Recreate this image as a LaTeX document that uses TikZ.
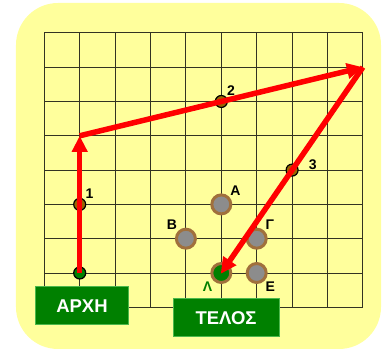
\documentclass[tikz,border=0pt]{standalone}
\usepackage{fontspec}
\setmainfont{Liberation Sans}
\usetikzlibrary{arrows.meta}
\definecolor{padyellow}{HTML}{FFFF9C}
\definecolor{boxgreen}{HTML}{008000}
\definecolor{ringbrown}{HTML}{A0703C}
\definecolor{dotbrown}{HTML}{996600}
\definecolor{dotgray}{HTML}{8C8C8C}
\definecolor{gridink}{HTML}{333322}

\begin{document}
\begin{tikzpicture}[
  x=35.4pt,y=34.3pt,
  font=\bfseries,
  gridline/.style={draw=gridink,line width=0.9pt},
  route/.style={-{Triangle[length=16pt,width=15pt]},red,line width=5.5pt},
  waypt/.style={circle,draw=black,line width=1.2pt,fill=dotbrown,
                minimum size=12pt,inner sep=0pt},
  startpt/.style={waypt,fill=boxgreen},
  spot/.style={circle,draw=ringbrown,line width=3pt,fill=dotgray,
               minimum size=19pt,inner sep=0pt},
  endspot/.style={spot,fill=boxgreen},
  tag/.style={font=\fontsize{14}{16}\selectfont\bfseries,inner sep=1pt},
  label box/.style={draw=green!60!black!70,line width=1pt,fill=boxgreen,
                    text=white,font=\fontsize{18.5}{21}\selectfont\bfseries,
                    minimum height=38pt},
]
  \useasboundingbox (-44.3pt,-44.7pt) rectangle (343.7pt,307.3pt);
  \fill[padyellow,rounded corners=42pt] (-28.3pt,-41.7pt) rectangle (336.7pt,304.3pt);

  % board
  \foreach \i in {0,...,9}
    \draw[gridline] (\i,0) -- (\i,8);
  \foreach \j in {0,...,8}
    \draw[gridline] (0,\j) -- (9,\j);

  % coins
  \node[spot] (a) at (5,3) {};
  \node[spot] (b) at (4,2) {};
  \node[spot] (g) at (6,2) {};
  \node[spot] (e) at (6,1) {};
  \node[endspot] (l) at (5,1) {};
  \node[tag,anchor=south west] at (a.north east) {Α};
  \node[tag,anchor=south east] at (b.north west) {Β};
  \node[tag,anchor=south west] at (g.north east) {Γ};
  \node[tag,anchor=north west] at (e.south east) {Ε};
  \node[tag,anchor=north east,text=boxgreen] at (l.south west) {Λ};

  % stops on the way
  \node[startpt] (s) at (1,1) {};
  \node[waypt] (w1) at (1,3) {};
  \node[waypt] (w2) at (5,6) {};
  \node[waypt] (w3) at (7,4) {};
  \node[tag,anchor=south west] at (w1.north east) {1};
  \node[tag,anchor=south west] at (w2.north east) {2};
  \node[tag,anchor=west,xshift=9pt,yshift=5pt] at (w3.east) {3};

  % route
  \coordinate (t) at (1,5);
  \coordinate (p) at (9,7);
  \draw[route] (s.center) -- (t);
  \draw[route] (t) -- (p);
  \draw[route,shorten >=-1pt] (p) -- (l.center);

  \node[label box,minimum width=92pt] (arxi) at (37.7pt,1.3pt) {ΑΡΧΗ};
  \node[label box,minimum width=106pt] (telos) at (181.7pt,-10.7pt) {ΤΕΛΟΣ};
\end{tikzpicture}
\end{document}
